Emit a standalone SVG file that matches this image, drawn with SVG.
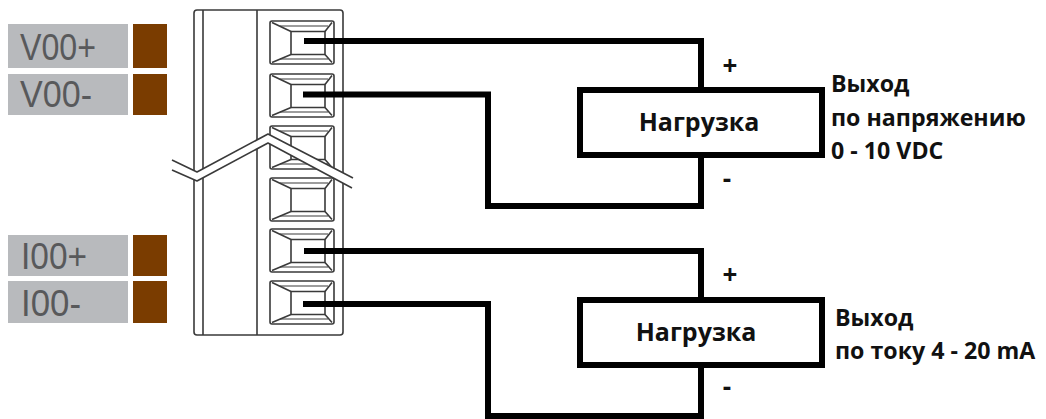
<svg xmlns="http://www.w3.org/2000/svg" width="1046" height="419" viewBox="0 0 1046 419">
<style>
.g{fill:#b8babd}
.b{fill:#7a3c00}
.lt{font-family:"Liberation Sans",Arial,sans-serif;font-size:37px;fill:#58595b}
.t{font-family:"Open Sans","Liberation Sans",sans-serif;font-weight:700;font-size:23.2px;fill:#111}
.h{font-size:25px}
.sym{font-family:"Open Sans","Liberation Sans",sans-serif;font-weight:700;font-size:26px;fill:#111;text-anchor:middle}
.thin{fill:none;stroke:#3a3a3a;stroke-width:1.6;stroke-linejoin:round}
.wire{fill:none;stroke:#000;stroke-width:6;stroke-linejoin:miter}
.load{fill:#fff;stroke:#000;stroke-width:6}
</style>
<defs>
<g id="term" class="thin">
<rect x="270" y="0" width="64" height="43" rx="2"/>
<rect x="291" y="10.500" width="34" height="23"/>
<path d="M272 1.500L291 10.500M332 1.500L325 10.500M272 41.500L291 33.500M332 41.500L325 33.500"/>
<path d="M280 5H328M280 38H328" stroke-width="1.2"/>
</g>
</defs>
<g id="label-v00p"><rect class="g" x="8" y="24" width="120" height="44"/><rect class="b" x="133" y="24" width="34" height="44"/><text class="lt" x="20" y="60" textLength="76" lengthAdjust="spacingAndGlyphs">V00+</text></g>
<g id="label-v00m"><rect class="g" x="8" y="74" width="120" height="41"/><rect class="b" x="133" y="74" width="34" height="41"/><text class="lt" x="20" y="107" textLength="72" lengthAdjust="spacingAndGlyphs">V00-</text></g>
<g id="label-i00p"><rect class="g" x="8" y="235" width="120" height="41"/><rect class="b" x="133" y="235" width="34" height="41"/><text class="lt" x="21" y="269" textLength="66" lengthAdjust="spacingAndGlyphs">I00+</text></g>
<g id="label-i00m"><rect class="g" x="8" y="281" width="120" height="42"/><rect class="b" x="133" y="281" width="34" height="42"/><text class="lt" x="21" y="316" textLength="60" lengthAdjust="spacingAndGlyphs">I00-</text></g>
<g id="terminal-block">
<rect class="thin" x="194" y="10" width="149" height="325" rx="3" fill="#fff"/>
<path class="thin" d="M203 10V335M257 10V335"/>
<use href="#term" y="21"/>
<use href="#term" y="74"/>
<use href="#term" y="126"/>
<use href="#term" y="178"/>
<use href="#term" y="229"/>
<use href="#term" y="281"/>
<path d="M172 160L197 172L268 134L353 178L352 188L268 143L197 181L172 170Z" fill="#fff"/>
<path class="thin" d="M172 160L197 172L268 134L353 178M172 170L197 181L268 143L352 188"/>
</g>
<g id="connectors">
<path class="wire" d="M304 41H701V90"/>
<path class="wire" d="M303 94.500H488V206H701V155"/>
<path class="wire" d="M304 251H701V300"/>
<path class="wire" d="M303 304H488V416H701V365"/>
</g>
<g id="load-voltage"><rect class="load" x="580" y="90" width="242" height="65"/><text class="t h" x="699" y="131" text-anchor="middle">Нагрузка</text></g>
<g id="load-current"><rect class="load" x="580" y="300" width="242" height="65"/><text class="t h" x="696" y="341" text-anchor="middle">Нагрузка</text></g>
<g id="voltage-labels">
<text class="sym" x="730" y="75">+</text>
<text class="sym" x="727" y="188">-</text>
<text class="t" x="831" y="92">Выход</text>
<text class="t" x="831" y="126">по напряжению</text>
<text class="t" x="831" y="159">0 - 10 VDC</text>
</g>
<g id="current-labels">
<text class="sym" x="730" y="284">+</text>
<text class="sym" x="727" y="396">-</text>
<text class="t" x="835" y="326">Выход</text>
<text class="t" x="835" y="359">по току 4 - 20 mA</text>
</g>
</svg>
